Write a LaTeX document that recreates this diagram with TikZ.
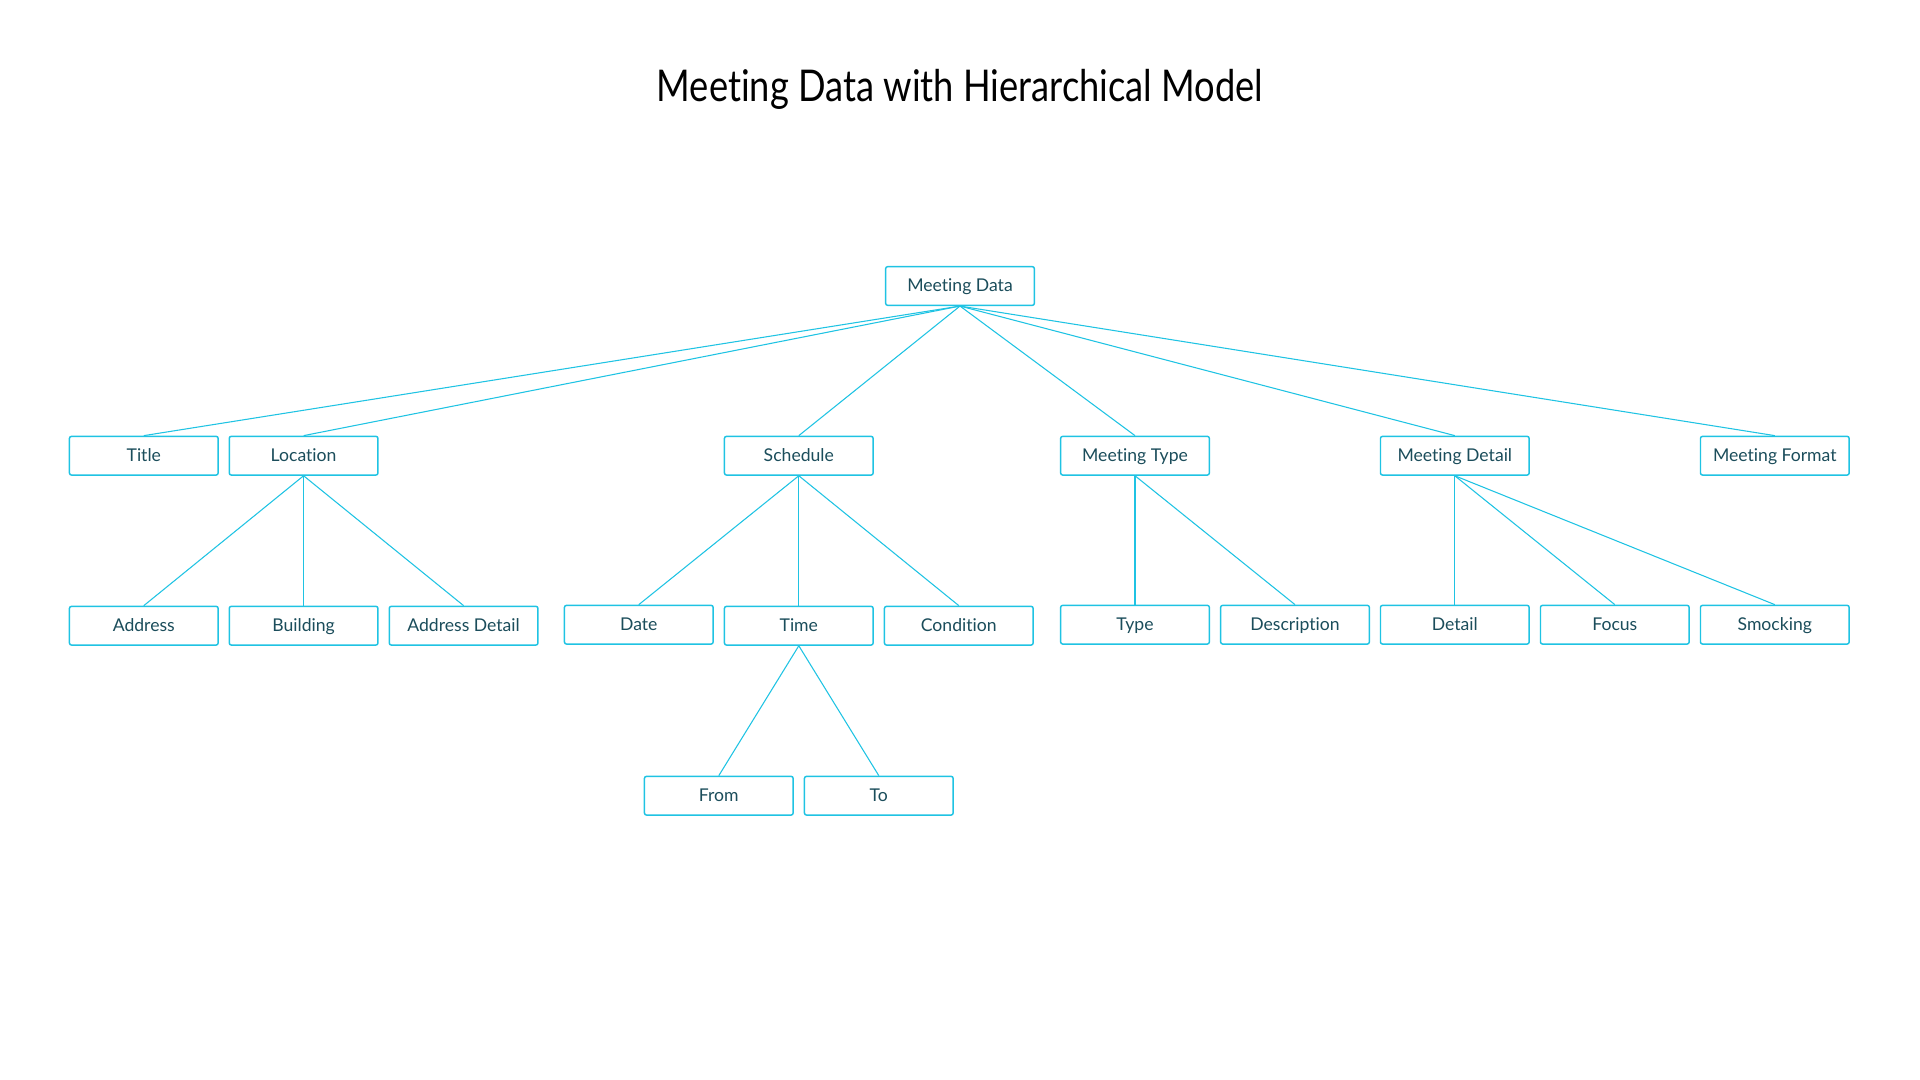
\documentclass[tikz,border=0pt]{standalone}
\usepackage{fontspec}
\setmainfont{Lato}[Ligatures=NoCommon]
\usepackage{xcolor}
\usepackage{tikz}
\definecolor{boxline}{HTML}{1FC3E3}
\definecolor{boxtext}{HTML}{1B4D5B}

\begin{document}
\begin{tikzpicture}[x=0.75pt,y=-0.75pt,
	item/.style={draw=boxline,line width=1.1pt,rounded corners=1.5pt,fill=white,
		minimum width=111.5pt,minimum height=29pt,inner sep=0pt,
		text height=10pt,text depth=1.4pt,
		text=boxtext,font=\fontsize{13.2}{15}\selectfont},
	link/.style={draw=boxline,line width=0.8pt}]
\useasboundingbox (0,0) rectangle (1920,1080);
\node[font=\fontsize{32.8}{38}\selectfont,text=black] (T) at (960,89) {\scalebox{0.83}[1]{Meeting Data with Hierarchical Model}};
% racine
\node[item] (MD) at (960,286) {Meeting Data};
% premier niveau
\node[item] (TI) at (143.8,455.7) {Title};
\node[item] (LO) at (303.6,455.7) {Location};
\node[item] (SC) at (798.8,455.7) {Schedule};
\node[item] (MT) at (1135,455.7) {Meeting Type};
\node[item] (ME) at (1454.8,455.7) {Meeting Detail};
\node[item] (MF) at (1774.8,455.7) {Meeting Format};
% deuxieme niveau
\node[item] (AD) at (143.8,625.7) {Address};
\node[item] (BU) at (303.6,625.7) {Building};
\node[item] (AX) at (463.6,625.7) {Address Detail};
\node[item] (DA) at (638.8,624.7) {Date};
\node[item] (TM) at (798.8,625.7) {Time};
\node[item] (CO) at (958.8,625.7) {Condition};
\node[item] (TY) at (1135,624.7) {Type};
\node[item] (DE) at (1295,624.7) {Description};
\node[item] (DT) at (1454.8,624.7) {Detail};
\node[item] (FO) at (1614.8,624.7) {Focus};
\node[item] (SM) at (1774.8,624.7) {Smocking};
% troisieme niveau
\node[item] (FR) at (718.8,795.7) {From};
\node[item] (TO) at (878.8,795.7) {To};
% liens
\draw[link] (MD.south)--(TI.north);
\draw[link] (MD.south)--(LO.north);
\draw[link] (MD.south)--(SC.north);
\draw[link] (MD.south)--(MT.north);
\draw[link] (MD.south)--(ME.north);
\draw[link] (MD.south)--(MF.north);
\draw[link] (LO.south)--(AD.north);
\draw[link] (LO.south)--(BU.north);
\draw[link] (LO.south)--(AX.north);
\draw[link] (SC.south)--(DA.north);
\draw[link] (SC.south)--(TM.north);
\draw[link] (SC.south)--(CO.north);
\draw[link] (TM.south)--(FR.north);
\draw[link] (TM.south)--(TO.north);
\draw[link] (MT.south)--(TY.north);
\draw[link] (MT.south)--(DE.north);
\draw[link] (ME.south)--(DT.north);
\draw[link] (ME.south)--(FO.north);
\draw[link] (ME.south)--(SM.north);
\end{tikzpicture}
\end{document}
